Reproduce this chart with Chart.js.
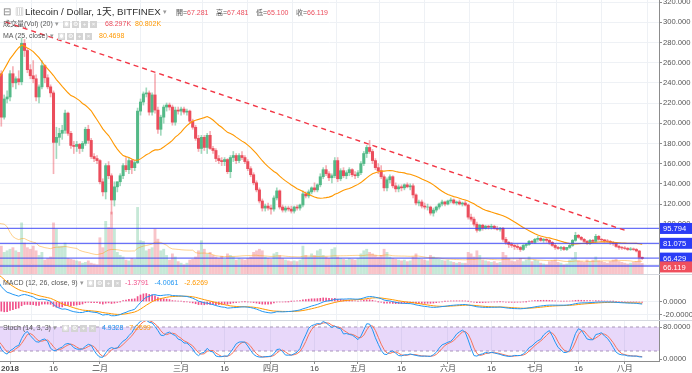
<!DOCTYPE html>
<html><head><meta charset="utf-8">
<script src="https://cdn.jsdelivr.net/npm/chart.js@4.4.1/dist/chart.umd.min.js"></script>
<style>
html,body{margin:0;padding:0;background:#fff;width:692px;height:373px;overflow:hidden;font-family:"Liberation Sans","Noto Sans CJK SC",sans-serif;}
#wrap{position:relative;width:692px;height:373px;}
canvas{position:absolute;left:0;}
.sep{position:absolute;left:0;width:692px;height:1px;background:#d5d8df;}
.t{position:absolute;white-space:nowrap;line-height:10px;font-size:7px;color:#555;}
.ic{display:inline-block;width:7px;height:7px;background:#d4d4d4;color:#fff;font-size:6px;line-height:7px;text-align:center;margin-right:2px;vertical-align:middle;}
.r{color:#eb4d5c}.o{color:#ff9800}.b{color:#2196f3}.p{color:#f0508a}
</style></head>
<body><div id="wrap">
<canvas id="cMain" width="692" height="274" style="top:0"></canvas>
<div class="sep" style="top:274px"></div>
<canvas id="cMacd" width="692" height="45" style="top:275px"></canvas>
<div class="sep" style="top:320px"></div>
<canvas id="cStoch" width="692" height="52" style="top:321px"></canvas>

<div class="t" style="left:3px;top:7px;font-size:10px;color:#777">⊟</div>
<div class="t" style="left:15px;top:7px;font-size:9px;color:#999">▥</div>
<div class="t" style="left:25px;top:7px;font-size:9.7px;color:#2f2f2f">Litecoin / Dollar, 1天, BITFINEX</div>
<div class="t" style="left:163px;top:7px;font-size:7px;color:#999">▾</div>
<div class="t" style="left:176px;top:8px">開=<span class="r">67.281</span></div>
<div class="t" style="left:216px;top:8px">高=<span class="r">67.481</span></div>
<div class="t" style="left:256px;top:8px">低=<span class="r">65.100</span></div>
<div class="t" style="left:296px;top:8px">收=<span class="r">66.119</span></div>

<div class="t" style="left:3px;top:19px">成交量(Vol) (20) <span style="color:#999">▾</span></div>
<div class="t" style="left:63px;top:19px"><span class="ic">◉</span><span class="ic">⚙</span><span class="ic">+</span><span class="ic">×</span></div>
<div class="t" style="left:105px;top:19px"><span class="r">68.297K</span>&nbsp;&nbsp;<span class="o">80.802K</span></div>

<div class="t" style="left:3px;top:31px">MA (25, close) <span style="color:#999">▾</span></div>
<div class="t" style="left:58px;top:31px"><span class="ic">◉</span><span class="ic">⚙</span><span class="ic">+</span><span class="ic">×</span></div>
<div class="t" style="left:99px;top:31px"><span class="o">80.4698</span></div>

<div class="t" style="left:3px;top:278px">MACD (12, 26, close, 9) <span style="color:#999">▾</span></div>
<div class="t" style="left:87px;top:278px"><span class="ic">◉</span><span class="ic">⚙</span><span class="ic">+</span><span class="ic">×</span></div>
<div class="t" style="left:125px;top:278px"><span class="p">-1.3791</span>&nbsp;&nbsp;&nbsp;<span class="b">-4.0061</span>&nbsp;&nbsp;&nbsp;<span class="o">-2.6269</span></div>

<div class="t" style="left:3px;top:323px">Stoch (14, 3, 3) <span style="color:#999">▾</span></div>
<div class="t" style="left:62px;top:323px"><span class="ic">◉</span><span class="ic">⚙</span><span class="ic">+</span><span class="ic">×</span></div>
<div class="t" style="left:102px;top:323px"><span class="b">4.9328</span>&nbsp;&nbsp;&nbsp;<span class="o">7.2699</span></div>
</div>
<script>
// day index relative to 2018-01-01 of the first entry (2017-12-01)
const FIRST_DAY = -31;

const opens = [
86,99,99,100,103,102,98,118,150,145,156,212,295,305,285,295,302,310,355,345,315,310,265,285,270,280,290,270,
249,206,224,226,249,240,244,241,279,272,253,247,244,226,236,257,245,236,
230,181,186,190,193,210,190,178,177,179,175,180,194,183,167,165,163,142,132,158,148,124,137,142,148,158,154,163,156,161,
212,221,229,230,211,228,213,194,206,216,218,216,201,213,212,214,211,212,202,196,185,175,186,176,188,175,173,165,163,162,164,
152,166,168,163,168,166,162,155,149,141,134,123,116,118,116,115,126,133,117,114,116,115,113,117,116,119,130,128,132,136,134,139,147,154,150,146,148,163,145,153,148,151,154,149,
148,151,160,170,176,172,163,156,153,147,136,144,147,138,135,137,136,139,137,138,129,121,122,118,117,117,111,114,117,120,122,120,123,124,121,122,120,121,
119,107,105,100,94,99,96,98,97,98,96,95,96,85,82,80,79,78,77,75,79,80,83,82,85,86,84,85,84,82,79,77,76,77,75,77,79,84,89,87,85,83,81,84,83,88,85,84.5,83.5,83,82,81,78,77,76.5,76,75,75.5,75,73.5,67.281];
const highs = [
100,101,103,104,105,104,122,160,156,162,225,320,340,310,305,310,315,375,368,350,330,312,300,288,285,300,295,272,
252,228,232,252,256,246,252,284,283,274,258,262,248,238,262,258,248,238,
232,196,195,198,213,211,192,182,182,180,182,196,198,185,170,168,164,145,160,162,150,142,142,150,160,166,166,164,163,215,
224,231,235,232,230,249,216,208,218,220,220,218,216,216,216,216,214,213,204,198,188,188,188,190,192,177,175,168,166,166,165,
168,172,170,170,172,168,164,157,151,143,136,125,120,121,119,128,136,134,119,118,118,118,118,119,120,133,132,134,137,141,140,150,156,158,152,150,166,166,155,156,153,156,155,152,
153,162,172,178,183,174,165,160,158,149,146,149,148,141,139,139,140,141,140,140,130,124,124,121,120,118,116,118,121,124,123,124,126,125,123,124,122,123,
120,110,107,102,100,100,99,99,100,99,98,97,97,87,83,82,80,80,78,80,81,84,84,86,88,87,86,86,85,83,81,78,78,78,77,80,85,92,90,88,86,84,85,85,90,89,86,85,85,84,83,82,79,78,78,77,77,76.5,76,74,67.481];
const lows = [
82,96,96,98,100,95,97,115,130,140,155,210,260,275,270,285,295,305,330,300,300,200,260,255,265,275,265,245,
197,204,220,222,236,234,238,238,266,250,244,240,222,220,234,240,234,226,
150,165,178,184,190,188,175,170,172,170,172,178,180,165,162,160,140,128,125,145,110,118,132,138,145,152,150,150,153,160,
208,218,226,208,208,210,190,188,200,212,213,198,198,209,208,209,208,200,194,183,172,170,173,170,174,170,162,160,158,158,150,
146,162,160,161,164,160,153,147,139,132,121,113,113,114,110,113,124,115,112,112,113,111,111,114,114,117,126,126,130,132,132,137,145,148,143,141,146,142,143,146,145,148,147,145,
146,149,158,166,170,160,154,150,145,133,133,141,136,132,132,133,134,136,134,126,119,118,116,115,114,109,108,112,115,118,118,119,121,120,119,119,118,118,
105,103,98,92,93,94,95,95,95,95,94,93,83,80,77,77,75,75,73,74,77,79,81,81,83,83,82,82,80,78,75,75,74,74,74,76,78,83,86,84,82,80,80,82,82,84,83,82,82,80,79,77,75,75,75,74,74,74,72.5,66.5,65.1];
const closes = [
99,99,100,103,102,98,118,150,145,156,212,295,305,285,295,302,310,355,345,315,310,265,285,270,280,290,270,249,
206,224,226,249,240,244,241,279,272,253,247,244,226,236,257,245,236,230,
181,186,190,193,210,190,178,177,179,175,180,194,183,167,165,163,142,132,158,148,124,137,142,148,158,154,163,156,161,212,
221,229,230,211,228,213,194,206,216,218,216,201,213,212,214,211,212,202,196,185,175,186,176,188,175,173,165,163,162,164,152,
166,168,163,168,166,162,155,149,141,134,123,116,118,116,115,126,133,117,114,116,115,113,117,116,119,130,128,132,136,134,139,147,154,150,146,148,163,145,153,148,151,154,149,148,
151,160,170,176,172,163,156,153,147,136,144,147,138,135,137,136,139,137,138,129,121,122,118,117,117,111,114,117,120,122,120,123,124,121,122,120,121,119,
107,105,100,94,99,96,98,97,98,96,95,96,85,82,80,79,78,77,75,79,80,83,82,85,86,84,85,84,82,79,77,76,77,75,77,79,84,89,87,85,83,81,84,83,88,85,84.5,83.5,83,82,81,78,77,76.5,76,75,75.5,75,73.5,67.281,66.119];
// volume in thousands
const volumes = [
100,70,80,90,80,100,200,330,250,200,480,880,720,400,280,200,200,360,320,300,240,520,240,200,160,180,200,230,
180,140,150,160,170,150,140,330,200,170,160,180,150,120,140,90,100,110,
330,290,180,180,200,100,95,90,85,80,70,75,85,70,65,60,234,170,340,300,400,290,140,120,110,90,85,100,95,430,
215,210,150,160,170,290,225,150,160,120,90,130,110,80,70,60,70,90,95,110,150,215,160,130,140,120,110,100,115,95,130,
120,110,90,100,95,90,100,110,140,150,160,150,110,100,95,130,140,120,100,90,85,80,85,80,90,180,120,110,130,120,150,160,120,110,100,160,170,110,100,95,90,100,95,90,
100,130,150,160,140,130,120,110,120,160,140,110,100,95,90,85,90,80,85,110,130,100,95,90,85,120,110,100,95,90,85,90,80,75,70,75,70,70,
140,130,110,150,120,90,85,80,75,80,70,75,140,120,100,85,80,90,100,80,90,110,80,90,85,70,65,60,80,85,90,75,70,60,65,90,100,140,85,80,75,90,80,90,110,85,80,75,70,80,90,95,80,75,70,65,70,75,80,110,68.297];

const tickDays = [0,15,31,59,74,90,105,120,135,151,166,181,196,212];
const tickLabels = ['2018','16','二月','三月','16','四月','16','五月','16','六月','16','七月','16','八月'];
const priceTicks = [60,80,100,120,140,160,180,200,220,240,260,280,300,320];
const macdTicks = [0,-20];
const stochTicks = [80,0];
const stochBands = [80,20];
const hLines = [95.794, 81.075, 66.429, 58.6];
const trendLine = [{x:-1.5, y:300.2}, {x:212.2, y:93.8}];

// view window
const X_MIN = -3.45, X_MAX = 223.8;
const P_MIN = 50.7, P_MAX = 322;
const V_MAX = 1768;
const M_MIN = -28.4, M_MAX = 40.8;
const S_MIN = -5, S_MAX = 95;

const UP = '#53b987', DN = '#eb4d5c';
const xs = closes.map((_, i) => FIRST_DAY + i);

function smaN(src, n){ return src.map((v,i)=>{ if(i<n-1) return null; let s=0; for(let j=i-n+1;j<=i;j++){ if(src[j]==null) return null; s+=src[j]; } return s/n; }); }
function ema(src, n){ const a=2/(n+1); let prev=null; return src.map(v=>{ if(v==null) return null; prev = prev==null ? v : a*v+(1-a)*prev; return prev; }); }

const ma25 = smaN(closes, 25);
const volMa = smaN(volumes, 20);
const e12 = ema(closes,12), e26 = ema(closes,26);
const macd = closes.map((_,i)=> e12[i]-e26[i]);
const signal = ema(macd, 9);
const hist = macd.map((v,i)=> v - signal[i]);
const rawK = closes.map((c,i)=>{ if(i<13) return null; let hh=-Infinity, ll=Infinity; for(let j=i-13;j<=i;j++){ hh=Math.max(hh,highs[j]); ll=Math.min(ll,lows[j]); } return 100*(c-ll)/(hh-ll); });
const kLine = smaN(rawK, 3);
const dLine = smaN(kLine, 3);

const pts = arr => arr.map((v,i)=> v==null ? null : {x: xs[i], y: v}).filter(p=>p);
const isUp = closes.map((c,i)=> c >= opens[i]);

Chart.defaults.font.family = '"Liberation Sans","Noto Sans CJK SC",sans-serif';
Chart.defaults.animation = false;

const GRID = '#eef1f5', AXIS = '#8c8c8c';
function xAxis(withLabels){
  return {
    type:'linear', min:X_MIN, max:X_MAX, offset:false,
    afterBuildTicks: s => { s.ticks = tickDays.map(v=>({value:v})); },
    afterFit: s => { s.height = withLabels ? 12 : 0; s.paddingLeft = 0; s.paddingRight = 0; },
    grid: { color: GRID, drawTicks: withLabels, tickLength: 3, tickColor: AXIS },
    border: { display: withLabels, color: AXIS },
    ticks: { display: withLabels, autoSkip:false, maxRotation:0, padding:0, color:'#4a4a4a',
      font: c => ({size: 8, weight: c.index === 0 ? 'bold' : 'normal'}),
      callback: (v, i) => tickLabels[i] }
  };
}
function yAxis(min, max, ticks, dec, gridOn){
  return {
    position:'right', min, max,
    afterBuildTicks: s => { s.ticks = ticks.map(v=>({value:v})); },
    afterFit: s => { s.width = 33; s.paddingTop = 0; s.paddingBottom = 0; },
    grid: { color: gridOn ? GRID : 'rgba(0,0,0,0)', tickLength: 3, tickColor: AXIS },
    border: { color: AXIS },
    ticks: { font:{size:7.6}, color:'#555', padding:1, callback: v => Number(v).toFixed(dec) }
  };
}
const baseOpts = { responsive:false, animation:false, layout:{padding:0, autoPadding:false},
  plugins:{legend:{display:false}, tooltip:{enabled:false}}, events:[] };

const priceLabels = {
  id:'priceLabels',
  afterDraw(chart){
    const ctx = chart.ctx, ys = chart.scales.y, left = chart.chartArea.right + 1;
    ctx.save();
    ctx.font = '7.6px "Liberation Sans", sans-serif';
    ctx.textBaseline = 'middle';
    const box = (v, y, col) => { ctx.fillStyle = col; ctx.fillRect(left, y-5.5, 33, 11); ctx.fillStyle = '#fff'; ctx.fillText(v.toFixed(3), left+3, y+0.5); };
    hLines.slice(0,3).forEach(v => box(v, ys.getPixelForValue(v), '#2a3cf6'));
    const last = closes[closes.length-1];
    box(last, ys.getPixelForValue(last) + 8.5, '#ef4f5d');
    ctx.restore();
  }
};

new Chart(document.getElementById('cMain'), {
  type:'bar',
  data:{ datasets:[
    {type:'line', data: trendLine, borderColor:'#f23645', borderWidth:1.4, borderDash:[5,4], pointRadius:0, yAxisID:'y', order:0},
    ...hLines.map(v => ({type:'line', data:[{x:X_MIN,y:v},{x:X_MAX,y:v}], borderColor:'rgba(55,65,245,0.75)', borderWidth:1.3, pointRadius:0, yAxisID:'y', order:1})),
    {type:'line', data: pts(ma25), borderColor:'#ff9800', borderWidth:1.1, pointRadius:0, tension:0, yAxisID:'y', order:2},
    {type:'bar', data: xs.map((x,i)=>({x, y:[opens[i], closes[i]]})), backgroundColor: isUp.map(u=>u?UP:DN), barThickness:2.4, grouped:false, yAxisID:'y', order:3},
    {type:'bar', data: xs.map((x,i)=>({x, y:[lows[i], highs[i]]})), backgroundColor: isUp.map(u=>u?'rgba(83,185,135,0.55)':'rgba(235,77,92,0.45)'), barThickness:1, grouped:false, yAxisID:'y', order:4},
    {type:'line', data: pts(volMa), borderColor:'rgba(255,152,0,0.45)', borderWidth:1, pointRadius:0, yAxisID:'yv', order:5},
    {type:'bar', data: xs.map((x,i)=>({x, y:volumes[i]})), backgroundColor: isUp.map(u=>u?'rgba(83,185,135,0.33)':'rgba(235,77,92,0.33)'), barThickness:2.2, grouped:false, yAxisID:'yv', order:6}
  ]},
  options:{ ...baseOpts,
    scales:{ x: xAxis(false), y: yAxis(P_MIN, P_MAX, priceTicks, 3, true),
      yv:{ display:false, min:0, max:V_MAX } } },
  plugins:[priceLabels]
});

new Chart(document.getElementById('cMacd'), {
  type:'bar',
  data:{ datasets:[
    {type:'line', data: pts(macd), borderColor:'#2196f3', borderWidth:1, pointRadius:0, order:0},
    {type:'line', data: pts(signal), borderColor:'#ff9800', borderWidth:1, pointRadius:0, order:1},
    {type:'bar', data: pts(hist), backgroundColor:'#f0508a', barThickness:1, grouped:false, order:2}
  ]},
  options:{ ...baseOpts, scales:{ x: xAxis(false), y: yAxis(M_MIN, M_MAX, macdTicks, 4, true) } }
});

new Chart(document.getElementById('cStoch'), {
  type:'line',
  data:{ datasets:[
    {data: pts(kLine), borderColor:'#2196f3', borderWidth:1, pointRadius:0, order:0},
    {data: pts(dLine), borderColor:'#f5735a', borderWidth:1, pointRadius:0, order:1},
    {data: [{x:X_MIN,y:stochBands[0]},{x:X_MAX,y:stochBands[0]}], borderColor:'#a898b5', borderWidth:1, borderDash:[3,3], pointRadius:0, fill:'+1', backgroundColor:'rgba(170,110,235,0.27)', order:2},
    {data: [{x:X_MIN,y:stochBands[1]},{x:X_MAX,y:stochBands[1]}], borderColor:'#a898b5', borderWidth:1, borderDash:[3,3], pointRadius:0, order:3}
  ]},
  options:{ ...baseOpts, scales:{ x: xAxis(true), y: yAxis(S_MIN, S_MAX, stochTicks, 4, false) } }
});
</script>
</body></html>
